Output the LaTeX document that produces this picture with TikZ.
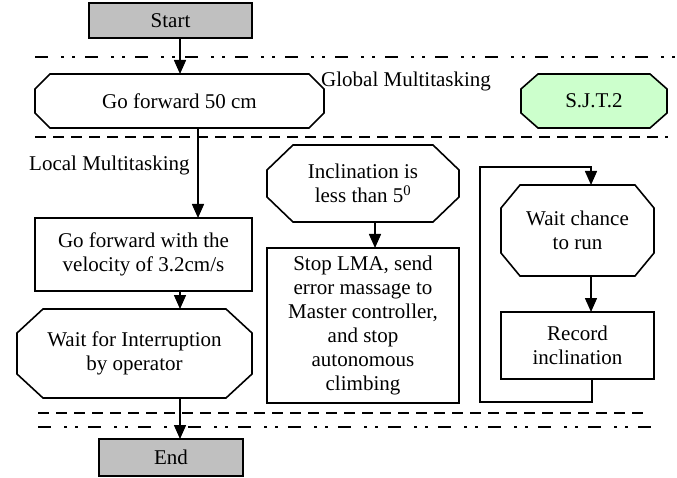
\documentclass[tikz,border=0pt]{standalone}
\usepackage{fontspec}
\setmainfont{Liberation Serif}
\usetikzlibrary{arrows.meta}
\definecolor{boxgray}{HTML}{C0C0C0}
\definecolor{boxgreen}{HTML}{CCFFCC}
\pgfdeclarelayer{background}
\pgfsetlayers{background,main}
\tikzset{
  base/.style={draw=none, inner sep=0pt, outer sep=0pt, align=center, font=\fontsize{21}{24}\selectfont},
  rectbox/.style={base, draw, line width=1.6pt},
  outline/.style={line width=1.6pt, line join=miter},
  arr/.style={line width=1.5pt, -{Triangle[length=14pt,width=12pt]}},
  dashdotdot/.style={line width=2.4pt, dash pattern=on 13pt off 13pt on 3pt off 8pt on 3pt off 10pt},
  dashline/.style={line width=2.2pt, dash pattern=on 11pt off 7pt},
  lbl/.style={font=\fontsize{21}{24}\selectfont, inner sep=0pt}
}
\newcommand\myocto[4][]{%
  \draw[outline,#1] ([xshift=#3]#2.north west) -- ([xshift=-#3]#2.north east)
    -- ([yshift=-#4]#2.north east) -- ([yshift=#4]#2.south east)
    -- ([xshift=-#3]#2.south east) -- ([xshift=#3]#2.south west)
    -- ([yshift=#4]#2.south west) -- ([yshift=-#4]#2.north west) -- cycle;}
\begin{document}
\begin{tikzpicture}[x=1pt,y=-1pt]
\useasboundingbox (0,0) rectangle (677,478);
% separator lines
\draw[dashdotdot] (35,57) -- (677,57);
\draw[dashline] (35,137) -- (668,137);
\draw[dashline] (38,413) -- (645,413);
\draw[dashdotdot] (38,427) -- (660,427);
% nodes
\node[rectbox, fill=boxgray, minimum width=163pt, minimum height=35pt] (start) at (170.5,20.5) {Start};
\node[base, minimum width=289pt, minimum height=54pt] (go50) at (179.5,101) {Go forward 50 cm};
\node[base, minimum width=146pt, minimum height=54pt] (sjt) at (594,101) {S.J.T.2};
\node[rectbox, minimum width=217pt, minimum height=73pt] (vel) at (143.5,254.5) {Go forward with the\\velocity of 3.2cm/s};
\node[base, minimum width=235pt, minimum height=89pt] (waitfor) at (134.5,353.5) {Wait for Interruption\\by operator};
\node[rectbox, fill=boxgray, minimum width=144pt, minimum height=37pt] (endn) at (171,457.5) {End};
\node[base, minimum width=192pt, minimum height=77pt] (incl) at (363,183.5) {Inclination is\\less than 5\textsuperscript{0}};
\node[rectbox, minimum width=192pt, minimum height=155pt] (stop) at (363,325.5) {Stop LMA, send\\error massage to\\Master controller,\\and stop\\autonomous\\climbing};
\node[base, minimum width=153pt, minimum height=91pt] (chance) at (577.5,230.5) {Wait chance\\to run};
\node[rectbox, minimum width=153pt, minimum height=67pt] (record) at (577.5,345.5) {Record\\inclination};
\node[lbl, anchor=base west] (glob) at (321,87) {Global Multitasking};
\node[lbl, anchor=base west] (loc) at (29,171) {Local Multitasking};
% octagon outlines
\begin{pgfonlayer}{background}
\myocto{go50}{15pt}{15pt}
\myocto[fill=boxgreen]{sjt}{17pt}{15pt}
\myocto{waitfor}{26pt}{24pt}
\myocto{incl}{26pt}{25pt}
\myocto{chance}{19pt}{23pt}
\end{pgfonlayer}
% connectors
\coordinate (loopB) at (480,402);
\coordinate (loopT) at (480,167);
\draw[arr] ([xshift=9.5pt]start.south) -- ([xshift=9.5pt]start.south |- go50.north);
\draw[arr] ([xshift=18.5pt]go50.south) -- ([xshift=18.5pt]go50.south |- vel.north);
\draw[arr] ([xshift=36.5pt]vel.south) -- ([xshift=36.5pt]vel.south |- waitfor.north);
\draw[arr] ([xshift=45.5pt]waitfor.south) -- ([xshift=45.5pt]waitfor.south |- endn.north);
\draw[arr] ([xshift=12pt]incl.south) -- ([xshift=12pt]incl.south |- stop.north);
\draw[arr] ([xshift=13.5pt]chance.south) -- ([xshift=13.5pt]chance.south |- record.north);
\draw[arr] ([xshift=14.5pt]record.south) |- (loopB) -- (loopT) -| ([xshift=13.5pt]chance.north);
\end{tikzpicture}
\end{document}
